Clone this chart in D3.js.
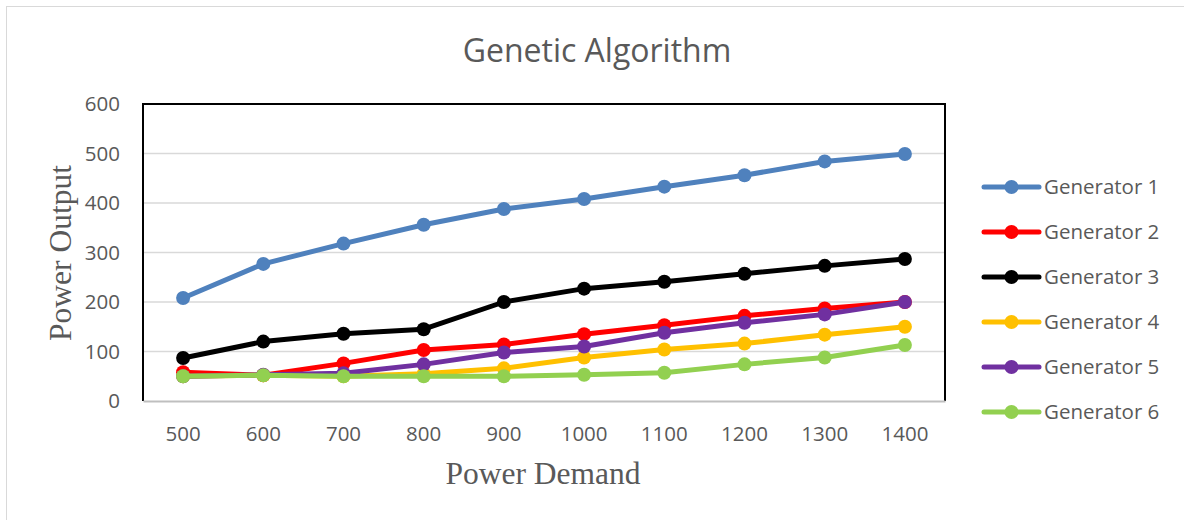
<!DOCTYPE html>
<html>
<head>
<meta charset="utf-8">
<script src="https://cdn.jsdelivr.net/npm/d3@7"></script>
<style>
  body { margin: 0; background: #fff; }
  text { font-family: "Open Sans", Lato, sans-serif; }
</style>
</head>
<body>
<div id="chart"></div>
<script>
// data
var demand = [500, 600, 700, 800, 900, 1000, 1100, 1200, 1300, 1400];
var gen1 = [208, 277, 318, 356, 388, 408, 433, 456, 484, 499];
var gen2 = [58, 52, 76, 103, 114, 135, 153, 172, 187, 200];
var gen3 = [87, 120, 136, 145, 200, 227, 241, 257, 273, 287];
var gen4 = [50, 52, 50, 55, 66, 88, 104, 116, 134, 150];
var gen5 = [50, 53, 56, 74, 98, 110, 138, 158, 175, 200];
var gen6 = [50, 52, 50, 50, 50, 53, 57, 74, 88, 113];
var yTicks = [0, 100, 200, 300, 400, 500, 600];
var seriesNames = ["Generator 1", "Generator 2", "Generator 3", "Generator 4", "Generator 5", "Generator 6"];
var seriesColors = ["#4f81bd", "#ff0000", "#000000", "#ffc000", "#7030a0", "#92d050"];

var series = [gen1, gen2, gen3, gen4, gen5, gen6].map(function(vals, i) {
  return { name: seriesNames[i], color: seriesColors[i], values: vals };
});

var svgWidth = 1184;
var svgHeight = 520;
var plot = { left: 143, top: 104, right: 945, bottom: 401 };

var svg = d3.select("#chart")
  .append("svg")
  .attr("width", svgWidth)
  .attr("height", svgHeight);

// outer chart border
svg.append("rect")
  .attr("x", 6.5).attr("y", 6.5)
  .attr("width", svgWidth + 10).attr("height", svgHeight + 10)
  .attr("fill", "#fff")
  .attr("stroke", "#d9d9d9");

var x = d3.scaleBand()
  .domain(demand)
  .range([plot.left, plot.right]);

var y = d3.scaleLinear()
  .domain([0, 600])
  .range([plot.bottom, plot.top]);

// gridlines
svg.append("g")
  .selectAll("line")
  .data(yTicks.filter(d => d > 0 && d < 600))
  .enter()
  .append("line")
  .attr("x1", plot.left).attr("x2", plot.right)
  .attr("y1", d => y(d)).attr("y2", d => y(d))
  .attr("stroke", "#d9d9d9")
  .attr("stroke-width", 1.5);

// plot area frame: black top / left / right, grey bottom axis
svg.append("path")
  .attr("d", `M${plot.left},${plot.bottom}V${plot.top}H${plot.right}V${plot.bottom}`)
  .attr("fill", "none")
  .attr("stroke", "#000")
  .attr("stroke-width", 2);

var xAxis = svg.append("g")
  .attr("transform", `translate(0, ${plot.bottom})`)
  .call(d3.axisBottom(x).tickSize(0).tickPadding(25));
xAxis.select(".domain").attr("stroke", "#bfbfbf").attr("stroke-width", 2);
xAxis.selectAll("text")
  .attr("fill", "#595959")
  .style("font-size", "20.5px");

var yAxis = svg.append("g")
  .attr("transform", `translate(${plot.left}, 0)`)
  .call(d3.axisLeft(y).tickValues(yTicks).tickSize(0).tickPadding(23));
yAxis.select(".domain").remove();
yAxis.selectAll("text")
  .attr("fill", "#595959")
  .style("font-size", "20.5px");

// lines and markers
var line = d3.line()
  .x((d, i) => x(demand[i]) + x.bandwidth() / 2)
  .y(d => y(d));

var groups = svg.append("g")
  .selectAll("g")
  .data(series)
  .enter()
  .append("g");

groups.append("path")
  .attr("d", d => line(d.values))
  .attr("fill", "none")
  .attr("stroke", d => d.color)
  .attr("stroke-width", 5)
  .attr("stroke-linejoin", "round");

groups.selectAll("circle")
  .data(d => d.values.map(v => ({ v: v, color: d.color })))
  .enter()
  .append("circle")
  .attr("cx", (d, i) => x(demand[i]) + x.bandwidth() / 2)
  .attr("cy", d => y(d.v))
  .attr("r", 7)
  .attr("fill", d => d.color);

// title
svg.append("text")
  .attr("x", 597)
  .attr("y", 62)
  .attr("text-anchor", "middle")
  .attr("fill", "#595959")
  .style("font-size", "32px")
  .text("Genetic Algorithm");

// axis titles
svg.append("text")
  .attr("x", 543)
  .attr("y", 484)
  .attr("text-anchor", "middle")
  .attr("fill", "#595959")
  .style("font-family", "'Liberation Serif', serif")
  .style("font-size", "31.5px")
  .text("Power Demand");

svg.append("text")
  .attr("transform", "translate(71, 253) rotate(-90)")
  .attr("text-anchor", "middle")
  .attr("fill", "#595959")
  .style("font-family", "'Liberation Serif', serif")
  .style("font-size", "31.5px")
  .text("Power Output");

// legend
var legend = svg.append("g")
  .selectAll("g")
  .data(series)
  .enter()
  .append("g")
  .attr("transform", (d, i) => `translate(984, ${187 + i * 45})`);

legend.append("line")
  .attr("x1", 0).attr("x2", 55)
  .attr("stroke", d => d.color)
  .attr("stroke-width", 5)
  .attr("stroke-linecap", "round");

legend.append("circle")
  .attr("cx", 27.5)
  .attr("r", 7)
  .attr("fill", d => d.color);

legend.append("text")
  .attr("x", 60)
  .attr("dy", "0.35em")
  .attr("fill", "#595959")
  .style("font-size", "20.5px")
  .text(d => d.name);
</script>
</body>
</html>
